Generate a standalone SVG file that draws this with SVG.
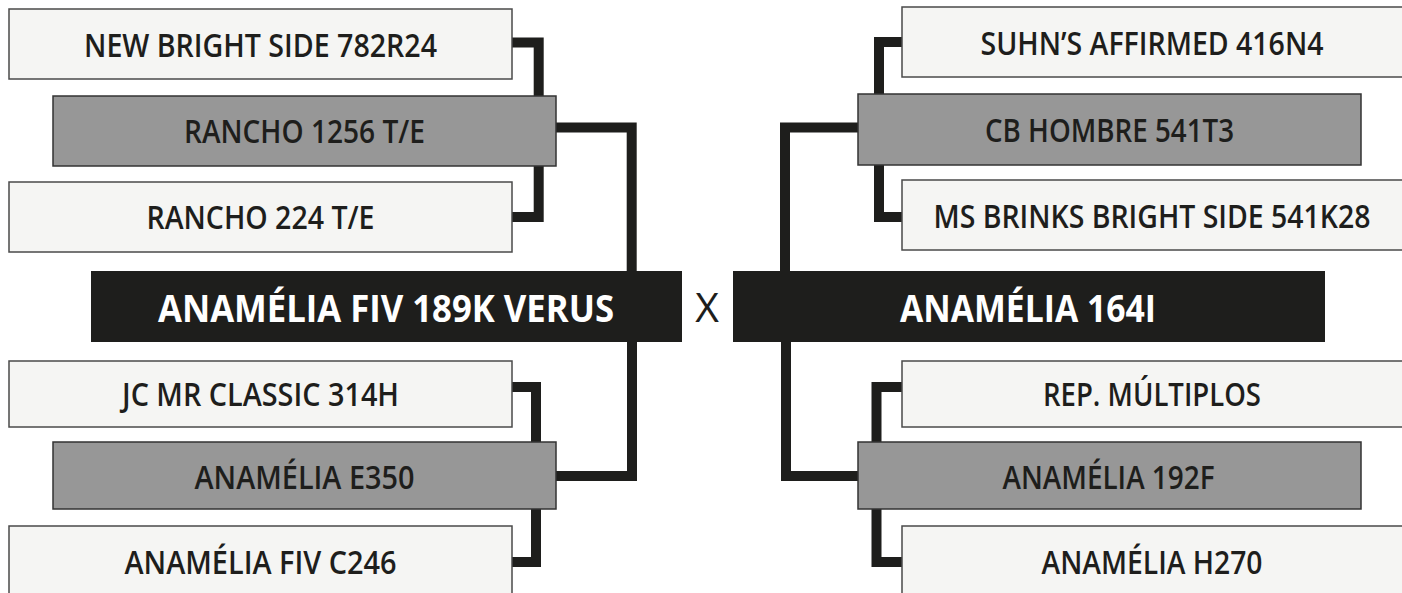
<svg xmlns="http://www.w3.org/2000/svg" width="1402" height="593" viewBox="0 0 1402 593">
<style>
.bg{fill:#ffffff}
.light{fill:#f5f5f3;stroke:#4a4a4a;stroke-width:1.5}
.gray{fill:#979797;stroke:#333333;stroke-width:1.5}
.main{fill:#1e1e1c}
.t{font-family:"Open Sans","Liberation Sans",sans-serif;font-size:33px;font-weight:600;fill:#1e1e1c;text-anchor:middle}
.tm{font-family:"Open Sans","Liberation Sans",sans-serif;font-size:38px;font-weight:700;fill:#ffffff;text-anchor:middle}
.x{font-family:"Open Sans","Liberation Sans",sans-serif;font-size:41px;font-weight:400;fill:#1e1e1c;text-anchor:middle}
.c{fill:none;stroke:#1e1e1c;stroke-width:10;stroke-linejoin:miter;stroke-linecap:butt}
</style>
<rect class="bg" x="0" y="0" width="1402" height="593"/>
<g id="connectors">
  <path class="c" d="M512,42.5 H538.7 V217 H512"/>
  <path class="c" d="M556,127.5 H631.7 V272"/>
  <path class="c" d="M512,387 H536 V562 H512"/>
  <path class="c" d="M556,476 H632 V341"/>
  <path class="c" d="M902,42 H879 V217 H902"/>
  <path class="c" d="M858,127.5 H785 V272"/>
  <path class="c" d="M902,387 H876.5 V562 H902"/>
  <path class="c" d="M858,476 H786 V341"/>
</g>
<g id="new-bright-side">
  <rect class="light" x="9" y="9" width="503" height="70"/>
  <text class="t" x="260.5" y="57" textLength="353" lengthAdjust="spacingAndGlyphs">NEW BRIGHT SIDE 782R24</text>
</g>
<g id="rancho-1256">
  <rect class="gray" x="53" y="96" width="503" height="70"/>
  <text class="t" x="304.5" y="143" textLength="241" lengthAdjust="spacingAndGlyphs">RANCHO 1256 T/E</text>
</g>
<g id="rancho-224">
  <rect class="light" x="9" y="182" width="503" height="70"/>
  <text class="t" x="260.5" y="229" textLength="228" lengthAdjust="spacingAndGlyphs">RANCHO 224 T/E</text>
</g>
<g id="anamelia-fiv-189k">
  <rect class="main" x="91" y="271" width="591" height="71"/>
  <text class="tm" x="386" y="322" textLength="456" lengthAdjust="spacingAndGlyphs">ANAMÉLIA FIV 189K VERUS</text>
</g>
<g id="cross">
  <text class="x" x="707" y="322">X</text>
</g>
<g id="jc-mr-classic">
  <rect class="light" x="9" y="361" width="503" height="66"/>
  <text class="t" x="260.5" y="406" textLength="277" lengthAdjust="spacingAndGlyphs">JC MR CLASSIC 314H</text>
</g>
<g id="anamelia-e350">
  <rect class="gray" x="53" y="442" width="503" height="67"/>
  <text class="t" x="304.5" y="489" textLength="220" lengthAdjust="spacingAndGlyphs">ANAMÉLIA E350</text>
</g>
<g id="anamelia-fiv-c246">
  <rect class="light" x="9" y="526" width="503" height="72"/>
  <text class="t" x="260.5" y="574" textLength="272" lengthAdjust="spacingAndGlyphs">ANAMÉLIA FIV C246</text>
</g>
<g id="suhns-affirmed">
  <rect class="light" x="902" y="7" width="503" height="70"/>
  <text class="t" x="1152" y="55" textLength="343" lengthAdjust="spacingAndGlyphs">SUHN’S AFFIRMED 416N4</text>
</g>
<g id="cb-hombre">
  <rect class="gray" x="858" y="94" width="503" height="71"/>
  <text class="t" x="1109.5" y="142" textLength="249" lengthAdjust="spacingAndGlyphs">CB HOMBRE 541T3</text>
</g>
<g id="ms-brinks">
  <rect class="light" x="902" y="180" width="503" height="70"/>
  <text class="t" x="1152" y="228" textLength="437" lengthAdjust="spacingAndGlyphs">MS BRINKS BRIGHT SIDE 541K28</text>
</g>
<g id="anamelia-164i">
  <rect class="main" x="733" y="271" width="592" height="71"/>
  <text class="tm" x="1028" y="322" textLength="256" lengthAdjust="spacingAndGlyphs">ANAMÉLIA 164I</text>
</g>
<g id="rep-multiplos">
  <rect class="light" x="902" y="361" width="503" height="66"/>
  <text class="t" x="1152" y="406" textLength="218" lengthAdjust="spacingAndGlyphs">REP. MÚLTIPLOS</text>
</g>
<g id="anamelia-192f">
  <rect class="gray" x="858" y="442" width="503" height="67"/>
  <text class="t" x="1108.5" y="489" textLength="212" lengthAdjust="spacingAndGlyphs">ANAMÉLIA 192F</text>
</g>
<g id="anamelia-h270">
  <rect class="light" x="902" y="526" width="503" height="72"/>
  <text class="t" x="1152" y="574" textLength="221" lengthAdjust="spacingAndGlyphs">ANAMÉLIA H270</text>
</g>
</svg>
